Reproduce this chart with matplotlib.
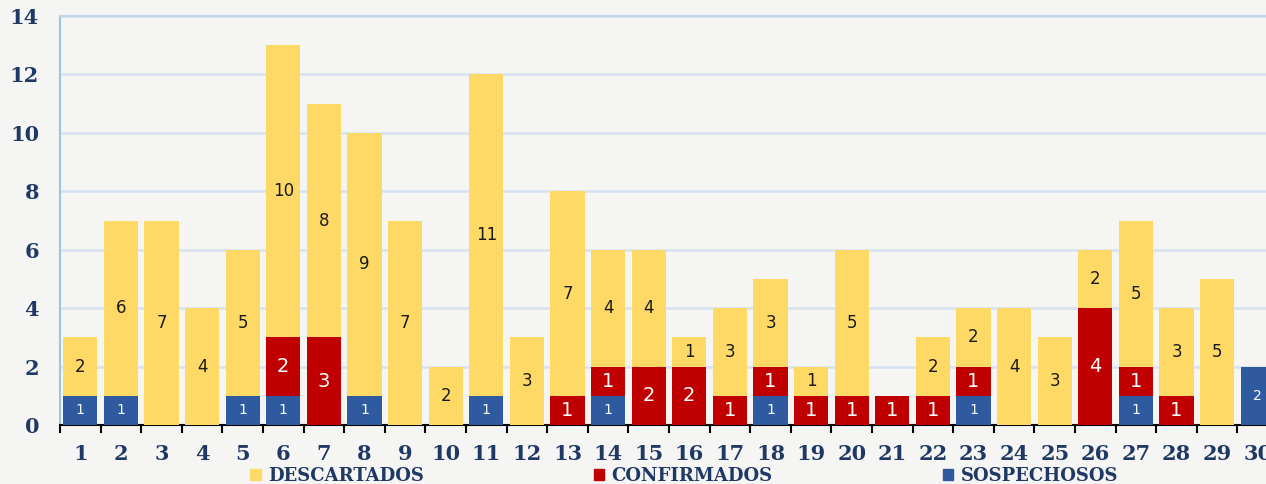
import matplotlib.pyplot as plt
from matplotlib.patches import Patch
import numpy as np

dias = [str(i) for i in range(1, 31)]
sospechosos = [1, 1, 0, 0, 1, 1, 0, 1, 0, 0, 1, 0, 0, 1, 0, 0, 0, 1, 0, 0,
               0, 0, 1, 0, 0, 0, 1, 0, 0, 2]
confirmados = [0, 0, 0, 0, 0, 2, 3, 0, 0, 0, 0, 0, 1, 1, 2, 2, 1, 1, 1, 1,
               1, 1, 1, 0, 0, 4, 1, 1, 0, 0]
descartados = [2, 6, 7, 4, 5, 10, 8, 9, 7, 2, 11, 3, 7, 4, 4, 1, 3, 3, 1, 5,
               0, 2, 2, 4, 3, 2, 5, 3, 5, 0]

amarillo = '#FFD966'
rojo = '#C00000'
azul = '#2F5AA0'
navy = '#1F3864'
fondo = '#F5F5F3'
serif = ['DejaVu Serif']

W, H = 1266, 484
fig = plt.figure(figsize=(W / 100, H / 100), dpi=100, facecolor=fondo)

ax = fig.add_axes([60 / W, 59 / H, (1278 - 60) / W, (425 - 16) / H])
ax.set_facecolor(fondo)

x = np.arange(1, 31)
w = 0.84
s = np.array(sospechosos)
c = np.array(confirmados)
d = np.array(descartados)
ax.bar(x, s, w, color=azul, zorder=3)
ax.bar(x, c, w, bottom=s, color=rojo, zorder=3)
ax.bar(x, d, w, bottom=s + c, color=amarillo, zorder=3)

for i in range(30):
    if s[i]:
        ax.text(x[i], s[i] / 2, str(s[i]), ha='center', va='center',
                color='white', fontsize=10, zorder=4)
    if c[i]:
        ax.text(x[i], s[i] + c[i] / 2, str(c[i]), ha='center', va='center',
                color='white', fontsize=14, zorder=4)
    if d[i]:
        ax.text(x[i], s[i] + c[i] + d[i] / 2, str(d[i]), ha='center', va='center',
                color='#1a1a1a', fontsize=12, zorder=4)

ax.set_xlim(0.5, 30.5)
ax.set_ylim(0, 14)
ax.set_yticks(range(0, 15, 2))
ax.set_xticks(x)
ax.set_xticklabels(dias)
ax.set_xticks(np.arange(0.5, 31, 1), minor=True)
ax.tick_params(axis='x', which='major', length=0, pad=14)
ax.tick_params(axis='x', which='minor', length=6, width=1.5, color='black')
ax.tick_params(axis='y', length=0, pad=15)
for lab in ax.get_xticklabels() + ax.get_yticklabels():
    lab.set_fontfamily(serif)
    lab.set_fontweight('bold')
    lab.set_fontsize(15)
    lab.set_color(navy)

ax.grid(axis='y', color='#D5E3F1', lw=1.8, zorder=1)
ax.set_axisbelow(True)
ax.spines['left'].set_color('#9DC3E6')
ax.spines['left'].set_linewidth(1.5)
ax.spines['top'].set_color('#BDD7EE')
ax.spines['top'].set_linewidth(1.5)
ax.spines['right'].set_visible(False)
ax.spines['bottom'].set_color('black')
ax.spines['bottom'].set_linewidth(1.5)

handles = [Patch(color=amarillo, label='DESCARTADOS'),
           Patch(color=rojo, label='CONFIRMADOS'),
           Patch(color=azul, label='SOSPECHOSOS')]
fig.legend(handles=handles, loc='center', bbox_to_anchor=(684 / W, 1 - 476 / H),
           ncol=3, frameon=False, handlelength=0.6, handleheight=0.6,
           handletextpad=0.4, columnspacing=9.4,
           prop={'family': serif, 'weight': 'bold', 'size': 13},
           labelcolor=navy)

fig.savefig('out.png', dpi=100, facecolor=fondo)
